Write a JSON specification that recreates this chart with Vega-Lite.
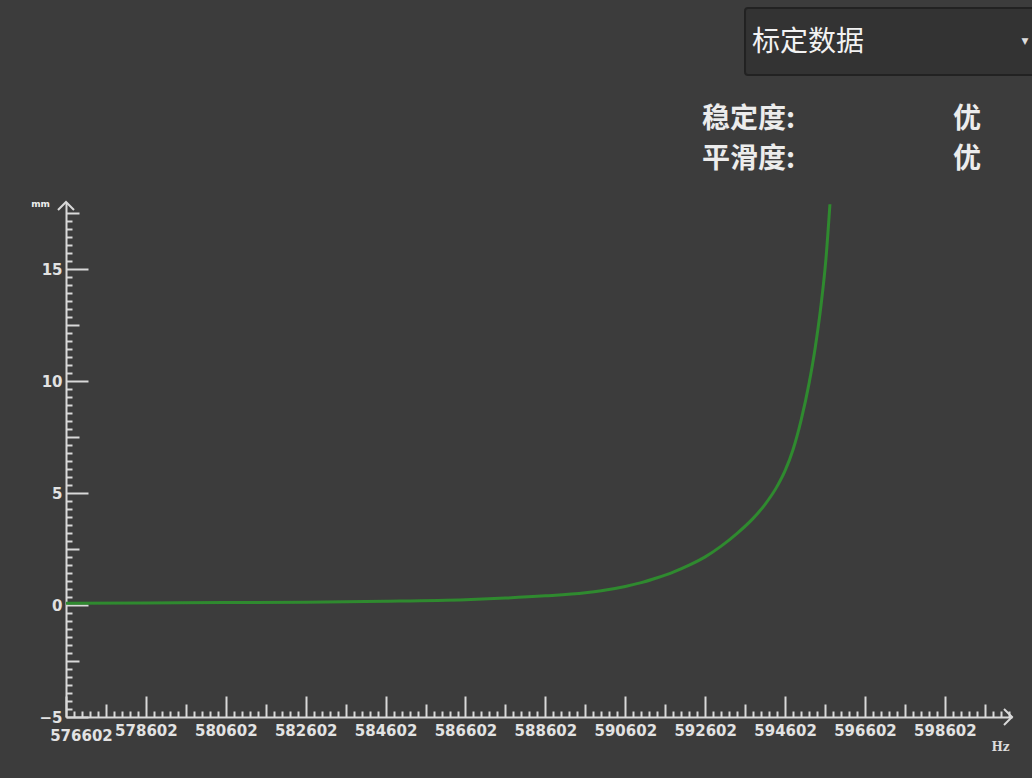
{
  "$schema": "https://vega.github.io/schema/vega-lite/v6.json",
  "width": 946,
  "height": 515,
  "autosize": {"type": "none"},
  "padding": {"left": 66, "top": 202, "right": 20, "bottom": 61},
  "background": "#3c3c3c",
  "config": {
    "view": {"stroke": null},
    "axis": {
      "domainColor": "#d9d9d9",
      "domainWidth": 2,
      "tickColor": "#d9d9d9",
      "tickWidth": 2,
      "labelColor": "#e2e2e2",
      "labelFont": "DejaVu Sans",
      "labelFontSize": 15,
      "labelFontWeight": "bold",
      "grid": false,
      "labelOverlap": false,
      "labelFlush": false,
      "labelBound": false
    }
  },
  "layer": [
    {
      "data": {"values": [
        {"freq": 576602, "mm": 0.08},
        {"freq": 578602, "mm": 0.09},
        {"freq": 580602, "mm": 0.11},
        {"freq": 582602, "mm": 0.13},
        {"freq": 584602, "mm": 0.17},
        {"freq": 586602, "mm": 0.24},
        {"freq": 587602, "mm": 0.31},
        {"freq": 588602, "mm": 0.41},
        {"freq": 589602, "mm": 0.55},
        {"freq": 590002, "mm": 0.64},
        {"freq": 590602, "mm": 0.83},
        {"freq": 591002, "mm": 1.0},
        {"freq": 591402, "mm": 1.22},
        {"freq": 591802, "mm": 1.47},
        {"freq": 592202, "mm": 1.78},
        {"freq": 592602, "mm": 2.15},
        {"freq": 593002, "mm": 2.63},
        {"freq": 593402, "mm": 3.2},
        {"freq": 593802, "mm": 3.87},
        {"freq": 594102, "mm": 4.5},
        {"freq": 594402, "mm": 5.3},
        {"freq": 594602, "mm": 6.0},
        {"freq": 594802, "mm": 6.95},
        {"freq": 595002, "mm": 8.25},
        {"freq": 595202, "mm": 9.9},
        {"freq": 595352, "mm": 11.45},
        {"freq": 595502, "mm": 13.4},
        {"freq": 595622, "mm": 15.4},
        {"freq": 595725, "mm": 17.9}
      ]},
      "mark": {"type": "line", "color": "#2f8a2f", "strokeWidth": 3, "interpolate": "monotone"},
      "encoding": {
        "x": {
          "field": "freq", "type": "quantitative",
          "scale": {"domain": [576602, 600282], "nice": false, "zero": false},
          "axis": {
            "title": "Hz",
            "titleX": 934, "titleY": 29, "titleAlign": "center", "titleBaseline": "middle",
            "titleFont": "DejaVu Serif", "titleFontSize": 12, "titleFontWeight": "bold", "titleColor": "#dddddd",
            "tickCount": 1000,
            "values": [576602,576802,577002,577202,577402,577602,577802,578002,578202,578402,578602,578802,579002,579202,579402,579602,579802,580002,580202,580402,580602,580802,581002,581202,581402,581602,581802,582002,582202,582402,582602,582802,583002,583202,583402,583602,583802,584002,584202,584402,584602,584802,585002,585202,585402,585602,585802,586002,586202,586402,586602,586802,587002,587202,587402,587602,587802,588002,588202,588402,588602,588802,589002,589202,589402,589602,589802,590002,590202,590402,590602,590802,591002,591202,591402,591602,591802,592002,592202,592402,592602,592802,593002,593202,593402,593602,593802,594002,594202,594402,594602,594802,595002,595202,595402,595602,595802,596002,596202,596402,596602,596802,597002,597202,597402,597602,597802,598002,598202,598402,598602,598802,599002,599202,599402,599602,599802,600002,600202],
            "labelExpr": "(datum.value - 576602) % 2000 === 0 ? format(datum.value, 'd') : ''",
            "tickSize": {"condition": [{"test": "(datum.value - 576602) % 2000 === 0", "value": -21}, {"test": "(datum.value - 576602) % 1000 === 0", "value": -13}], "value": -6},
            "labelPadding": {"condition": {"test": "datum.value === 576602", "value": 32}, "value": 27},
            "labelOffset": {"condition": {"test": "datum.value === 576602", "value": 15}, "value": 0},
            "labelBaseline": "top"
          }
        },
        "y": {
          "field": "mm", "type": "quantitative",
          "scale": {"domain": [-5, 18], "nice": false, "zero": false},
          "axis": {
            "title": "mm",
            "titleAngle": 0, "titleX": -26, "titleY": 1, "titleAlign": "center", "titleBaseline": "middle",
            "titleFont": "DejaVu Sans", "titleFontSize": 9, "titleFontWeight": "bold", "titleColor": "#eeeeee",
            "tickCount": 1000,
            "values": [-5,-4.6429,-4.2857,-3.9286,-3.5714,-3.2143,-2.8571,-2.5,-2.1429,-1.7857,-1.4286,-1.0714,-0.7143,-0.3571,0,0.3571,0.7143,1.0714,1.4286,1.7857,2.1429,2.5,2.8571,3.2143,3.5714,3.9286,4.2857,4.6429,5,5.3571,5.7143,6.0714,6.4286,6.7857,7.1429,7.5,7.8571,8.2143,8.5714,8.9286,9.2857,9.6429,10,10.3571,10.7143,11.0714,11.4286,11.7857,12.1429,12.5,12.8571,13.2143,13.5714,13.9286,14.2857,14.6429,15,15.3571,15.7143,16.0714,16.4286,16.7857,17.1429,17.5],
            "labelExpr": "abs(datum.value % 5) < 0.01 ? format(datum.value, 'd') : ''",
            "tickSize": {"condition": [{"test": "abs(datum.value % 5) < 0.01", "value": -22}, {"test": "abs(datum.value % 2.5) < 0.01", "value": -13}], "value": -6},
            "labelPadding": 26
          }
        }
      }
    },
    {
      "data": {"values": [{}]},
      "mark": {"type": "rect", "fill": "#333333", "stroke": "#222222", "strokeWidth": 2, "cornerRadius": 3},
      "encoding": {
        "x": {"datum": 593599, "type": "quantitative"},
        "x2": {"datum": 600900},
        "y": {"datum": 26.66, "type": "quantitative"},
        "y2": {"datum": 23.67}
      }
    },
    {
      "data": {"values": [{}]},
      "mark": {"type": "text", "text": "标定数据", "font": "Noto Sans CJK SC", "fontSize": 28, "color": "#f2f2f2", "align": "left", "baseline": "middle"},
      "encoding": {
        "x": {"datum": 593774, "type": "quantitative"},
        "y": {"datum": 25.1, "type": "quantitative"}
      }
    },
    {
      "data": {"values": [{}]},
      "mark": {"type": "text", "text": "▼", "font": "DejaVu Sans", "fontSize": 9, "color": "#dddddd", "align": "center", "baseline": "middle"},
      "encoding": {
        "x": {"datum": 600608, "type": "quantitative"},
        "y": {"datum": 25.2, "type": "quantitative"}
      }
    },
    {
      "data": {"values": [{}]},
      "mark": {"type": "text", "text": ["稳定度:", "平滑度:"], "lineHeight": 40, "font": "Noto Sans CJK SC", "fontSize": 28, "fontWeight": "bold", "color": "#ececec", "align": "left", "baseline": "middle"},
      "encoding": {
        "x": {"datum": 592522, "type": "quantitative"},
        "y": {"datum": 21.66, "type": "quantitative"}
      }
    },
    {
      "data": {"values": [{}]},
      "mark": {"type": "text", "text": ["优", "优"], "lineHeight": 40, "font": "Noto Sans CJK SC", "fontSize": 28, "fontWeight": "bold", "color": "#ececec", "align": "center", "baseline": "middle"},
      "encoding": {
        "x": {"datum": 599156, "type": "quantitative"},
        "y": {"datum": 21.66, "type": "quantitative"}
      }
    },
    {
      "data": {"values": [{}]},
      "mark": {"type": "point", "shape": "M-1,-1L0,0L-1,1", "size": 256, "filled": false, "stroke": "#d9d9d9", "strokeWidth": 2, "opacity": 1},
      "encoding": {
        "x": {"datum": 600282, "type": "quantitative"},
        "y": {"datum": -5, "type": "quantitative"}
      }
    },
    {
      "data": {"values": [{}]},
      "mark": {"type": "point", "shape": "M-1,1L0,0L1,1", "size": 256, "filled": false, "stroke": "#d9d9d9", "strokeWidth": 2, "opacity": 1},
      "encoding": {
        "x": {"datum": 576602, "type": "quantitative"},
        "y": {"datum": 18, "type": "quantitative"}
      }
    }
  ]
}
